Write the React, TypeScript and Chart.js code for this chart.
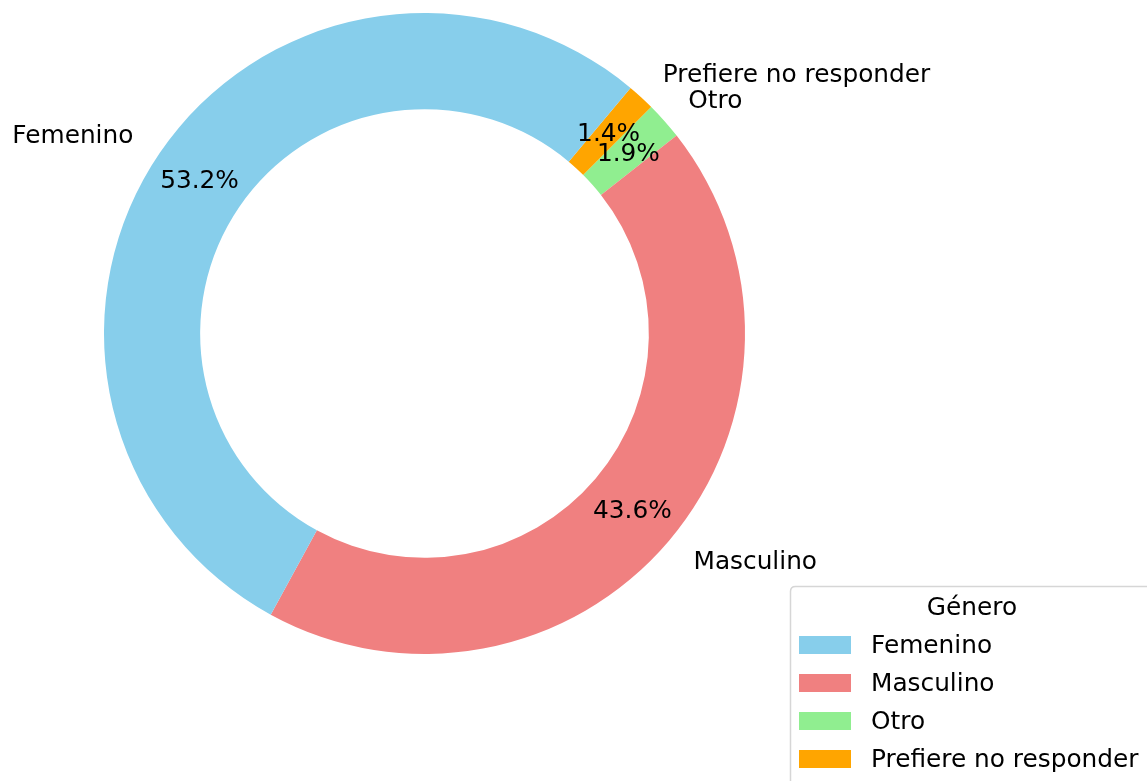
import React, { useEffect, useRef } from "react";
import { Chart, registerables } from "chart.js";

Chart.register(...registerables);

const categories = ["Femenino", "Masculino", "Otro", "Prefiere no responder"];
const percentages = [53.2, 43.6, 1.9, 1.4];
const colors = ["#87CEEB", "#F08080", "#90EE90", "#FFA500"];
const legendTitle = "Género";

const FONT = '24.8px "DejaVu Sans", sans-serif';
const DY = 1.5;

// matplotlib draws counter-clockwise; Chart.js clockwise -> reverse order
const order = categories.map((_, i) => categories.length - 1 - i);

const labelsPlugin = {
  id: "pieLabels",
  afterDatasetsDraw(chart: any) {
    const ctx = chart.ctx;
    const meta = chart.getDatasetMeta(0);
    ctx.save();
    ctx.font = FONT;
    ctx.fillStyle = "#000";
    ctx.textBaseline = "middle";
    meta.data.forEach((arc: any, j: number) => {
      const i = order[j];
      const p = arc.getProps(["x", "y", "startAngle", "endAngle", "outerRadius"], true);
      const mid = (p.startAngle + p.endAngle) / 2;
      const c = Math.cos(mid);
      const s = Math.sin(mid);
      const rp = 0.85 * p.outerRadius;
      ctx.textAlign = "center";
      ctx.fillText(percentages[i].toFixed(1) + "%", p.x + c * rp, p.y + s * rp + DY);
      const rl = 1.1 * p.outerRadius;
      ctx.textAlign = c >= 0 ? "left" : "right";
      ctx.fillText(categories[i], p.x + c * rl, p.y + s * rl + DY);
    });
    ctx.restore();
  },
};

const legendPlugin = {
  id: "mplLegend",
  afterDraw(chart: any) {
    const ctx = chart.ctx;
    ctx.save();
    const left = 790.5;
    const top = 586.5;
    const right = 1170;
    const bottom = 820;
    const r = 5;
    ctx.beginPath();
    ctx.moveTo(left + r, top);
    ctx.lineTo(right, top);
    ctx.lineTo(right, bottom);
    ctx.lineTo(left, bottom);
    ctx.lineTo(left, top + r);
    ctx.quadraticCurveTo(left, top, left + r, top);
    ctx.fillStyle = "rgba(255,255,255,0.8)";
    ctx.fill();
    ctx.strokeStyle = "#d6d6d6";
    ctx.lineWidth = 1.5;
    ctx.stroke();

    ctx.font = FONT;
    ctx.fillStyle = "#000";
    ctx.textBaseline = "middle";
    ctx.textAlign = "center";
    ctx.fillText(legendTitle, 972, 607 + DY);

    ctx.textAlign = "left";
    categories.forEach((cat, i) => {
      const cy = 645 + i * 38;
      ctx.fillStyle = colors[i];
      ctx.fillRect(799, cy - 9, 52, 18);
      ctx.fillStyle = "#000";
      ctx.fillText(cat, 871, cy + DY);
    });
    ctx.restore();
  },
};

export default function App() {
  const ref = useRef<HTMLCanvasElement>(null);
  useEffect(() => {
    if (!ref.current) return;
    const chart = new Chart(ref.current, {
      type: "doughnut",
      data: {
        labels: order.map((i) => categories[i]),
        datasets: [
          {
            data: order.map((i) => percentages[i]),
            backgroundColor: order.map((i) => colors[i]),
            borderWidth: 0,
          },
        ],
      },
      options: {
        responsive: false,
        animation: false,
        events: [],
        cutout: "70%",
        rotation: 40,
        layout: { padding: { left: 104, top: 13, right: 402, bottom: 127 } },
        plugins: {
          legend: { display: false },
          tooltip: { enabled: false },
          title: { display: false },
        },
      },
      plugins: [labelsPlugin, legendPlugin],
    } as any);
    return () => chart.destroy();
  }, []);
  return (
    <div style={{ position: "fixed", left: 0, top: 0, width: 1147, height: 781, background: "#fff" }}>
      <canvas ref={ref} width={1147} height={781} style={{ display: "block" }} />
    </div>
  );
}
